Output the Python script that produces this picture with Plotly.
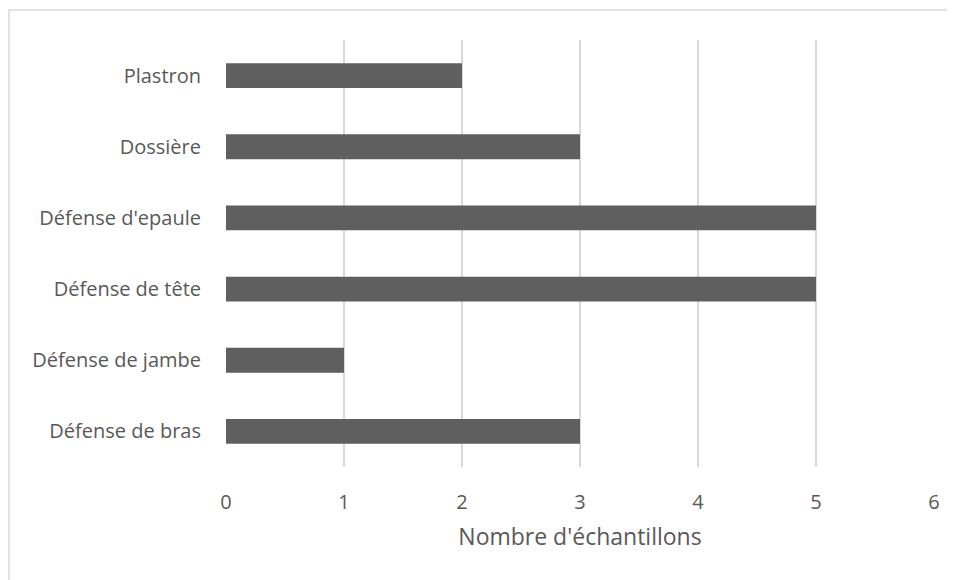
import plotly.graph_objects as go

categories = ["Défense de bras", "Défense de jambe", "Défense de tête",
              "Défense d'epaule", "Dossière", "Plastron"]
values = [3, 1, 5, 5, 3, 2]
x_ticks = [0, 1, 2, 3, 4, 5, 6]

FONT = "Open Sans"
TXT = "#595959"

# page body has an 8px margin, so the figure is drawn 8px in from the corner
W, H = 947, 572
ML, MR, MT, MB = 218, 21, 32, 113
PW, PH = W - ML - MR, H - MT - MB

fig = go.Figure(go.Bar(
    y=categories, x=values, orientation="h",
    marker=dict(color="#5f5f5f", line=dict(width=0)),
))

fig.update_layout(
    width=W, height=H,
    margin=dict(l=ML, r=MR, t=MT, b=MB),
    paper_bgcolor="white", plot_bgcolor="white",
    bargap=0.65,
    showlegend=False,
    font=dict(family=FONT, size=20, color=TXT),
    xaxis=dict(
        range=[0, 6], tickvals=x_ticks, showgrid=True,
        gridcolor="#d9d9d9", gridwidth=1.5,
        zeroline=False, showline=False,
        ticklabelstandoff=21,
        tickfont=dict(family=FONT, size=20, color=TXT),
        title=dict(text="Nombre d'échantillons", standoff=14,
                   font=dict(family=FONT, size=23, color=TXT)),
    ),
    yaxis=dict(
        categoryorder="array", categoryarray=categories,
        showgrid=False, zeroline=False, showline=False,
        ticklabelstandoff=24,
        tickfont=dict(family=FONT, size=20, color=TXT),
    ),
    shapes=[dict(type="rect", xref="paper", yref="paper",
                 x0=(1 - ML) / PW, x1=1.2, y0=-0.5, y1=1 + (MT - 2) / PH,
                 line=dict(color="#d9d9d9", width=1.5),
                 fillcolor="rgba(0,0,0,0)", layer="below")],
)

fig.write_html("out.html")
